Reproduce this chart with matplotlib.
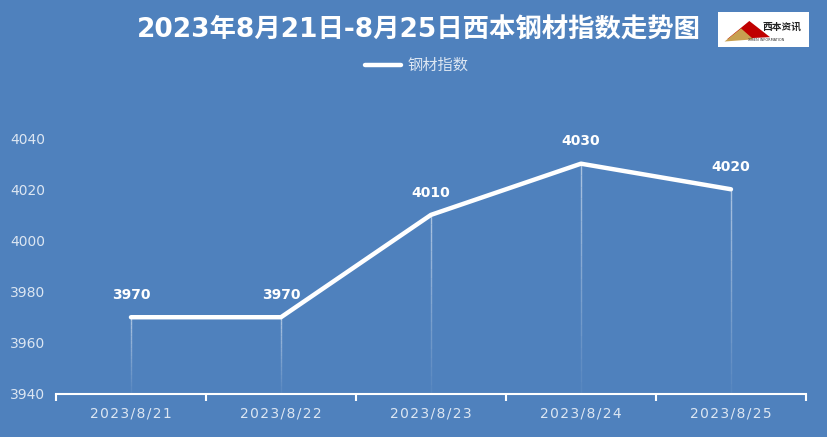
import numpy as np
import matplotlib.pyplot as plt
from matplotlib.patches import Rectangle, Polygon

plt.rcParams['font.family'] = ['Noto Sans CJK SC', 'DejaVu Sans']

## 数据
dates = ["2023/8/21", "2023/8/22", "2023/8/23", "2023/8/24", "2023/8/25"]
values = [3970, 3970, 4010, 4030, 4020]
y_ticks = [3940, 3960, 3980, 4000, 4020, 4040]

bg = "#4F81BD"
label_color = "#DCE6F2"

fig = plt.figure(figsize=(8.28, 4.37), dpi=100, facecolor=bg)
ax = fig.add_axes([0.0676, 0.0984, 0.9058, 0.5856])
ax.set_facecolor(bg)

x = np.arange(len(dates))

# 垂直投影线 (渐隐效果)
for xi, v in zip(x, values):
    n = 20
    ys = np.linspace(3940, v, n + 1)
    for k in range(n):
        ax.plot([xi, xi], [ys[k], ys[k + 1]], color="white",
                alpha=0.05 + 0.5 * k / n, lw=1, solid_capstyle="butt")

ax.plot(x, values, color="white", lw=3.2, label="钢材指数",
        solid_capstyle="round", solid_joinstyle="round", clip_on=False)

for xi, v in zip(x, values):
    ax.annotate(str(v), (xi, v), xytext=(0, 11), textcoords="offset points",
                ha="center", va="bottom", color="white", fontsize=10,
                fontweight="bold", family=["DejaVu Sans"])

ax.set_xlim(-0.5, len(dates) - 0.5)
ax.set_ylim(3940, 4040)
ax.set_yticks(y_ticks)
ax.set_yticklabels([str(t) for t in y_ticks], color=label_color, fontsize=10,
                   family=["DejaVu Sans"])
ax.tick_params(axis="y", length=0, pad=8)

ax.set_xticks(x)
ax.set_xticklabels(["\u200a".join(d) for d in dates], color=label_color,
                   fontsize=10, family=["DejaVu Sans"])
ax.set_xticks(np.arange(-0.5, len(dates)), minor=True)
ax.tick_params(axis="x", which="major", length=0, pad=9)
ax.tick_params(axis="x", which="minor", length=5, color="white", width=1.5,
               direction="out")

for s in ["top", "right", "left"]:
    ax.spines[s].set_visible(False)
ax.spines["bottom"].set_color("white")
ax.spines["bottom"].set_linewidth(1.5)

fig.text(0.506, 0.93, "2023年8月21日-8月25日西本钢材指数走势图", ha="center",
         va="center", color="white", fontsize=19, fontweight="bold",
         family=["DejaVu Sans", "Noto Sans CJK SC"])

leg = fig.legend(loc="center", bbox_to_anchor=(0.503, 0.85), frameon=False,
                 fontsize=11, handlelength=2.4, handletextpad=0.4)
for t in leg.get_texts():
    t.set_color(label_color)

# 西本资讯 logo
fig.patches.append(Rectangle((0.867, 0.892), 0.11, 0.08, transform=fig.transFigure,
                             facecolor="white", edgecolor="none"))
fig.patches.append(Polygon([[0.878, 0.91], [0.905, 0.952], [0.93, 0.915]],
                           closed=True, transform=fig.transFigure,
                           facecolor="#C00000", edgecolor="none"))
fig.patches.append(Polygon([[0.875, 0.905], [0.895, 0.935], [0.91, 0.91]],
                           closed=True, transform=fig.transFigure,
                           facecolor="#C8A050", edgecolor="none"))
fig.text(0.945, 0.94, "西本资讯", ha="center", va="center", color="#222222",
         fontsize=7, fontweight="bold")
fig.text(0.925, 0.908, "XIBEN INFORMATION", ha="center", va="center",
         color="#333333", fontsize=2.5, family=["DejaVu Sans"])

fig.savefig("out.png", dpi=100, facecolor=bg)
